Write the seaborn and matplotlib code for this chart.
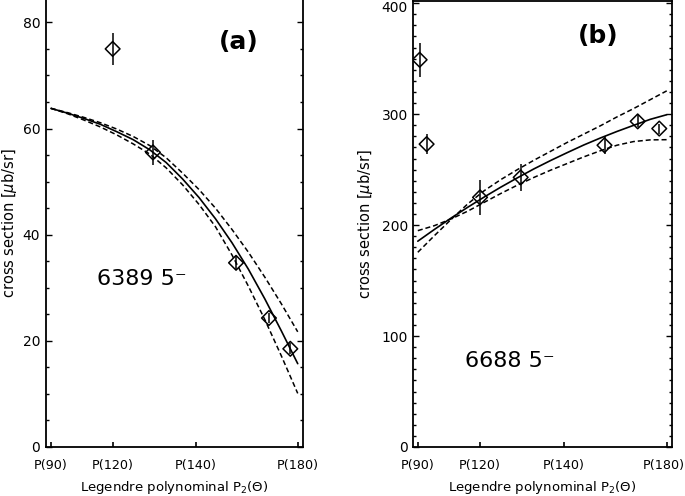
import matplotlib
matplotlib.use("Agg")
import matplotlib.pyplot as plt
import matplotlib.transforms as mtransforms
import seaborn as sns

# x axis is the Legendre polynomial P2(cos theta); ticks at 90, 120, 140, 180 deg
tick_pos = [-0.5, -0.125, 0.3802, 1.0]
tick_lab = ["P(90)", "P(120)", "P(140)", "P(180)"]

# --- panel (a): 6389 keV 5- ---
a_x = [-0.125, 0.120, 0.625, 0.825, 0.955]
a_y = [75.0, 55.5, 34.7, 24.3, 18.5]
a_err = [3.0, 2.4, 1.2, 1.0, 1.0]

a_fit_x = [-0.5, -0.4, -0.3, -0.2, -0.1, 0.0, 0.1, 0.2,
           0.3, 0.4, 0.5, 0.6, 0.7, 0.8, 0.9, 1.0]
a_fit = [63.8, 62.9, 61.9, 60.8, 59.4, 57.9, 56.0, 53.6,
         50.5, 47.0, 43.0, 38.5, 33.5, 27.9, 21.9, 15.7]
a_fit_hi = [63.8, 63.0, 62.1, 61.1, 59.9, 58.5, 56.8, 54.5,
            51.6, 48.5, 45.0, 41.0, 36.7, 32.0, 27.0, 21.7]
a_fit_lo = [63.8, 62.8, 61.6, 60.3, 58.8, 57.1, 55.2, 52.6,
            49.4, 45.7, 41.5, 36.2, 30.3, 24.0, 17.2, 10.1]

# --- panel (b): 6688 keV 5- ---
b_x = [-0.489, -0.447, -0.125, 0.120, 0.625, 0.825, 0.955]
b_y = [349.0, 273.0, 225.0, 243.0, 272.0, 293.5, 287.0]
b_err = [15.5, 9.0, 15.5, 12.0, 8.0, 5.5, 4.5]

b_fit_x = [-0.5, -0.4, -0.3, -0.2, -0.1, 0.0, 0.1, 0.2,
           0.3, 0.4, 0.5, 0.6, 0.7, 0.8, 0.9, 1.0]
b_fit = [185.5, 196.1, 206.3, 216.0, 225.3, 234.2, 242.6, 250.7,
         258.2, 265.3, 272.2, 278.5, 284.4, 289.9, 295.3, 299.5]
b_fit_steep = [175.5, 190.5, 205.0, 219.0, 231.0, 241.0, 250.0, 258.5,
               266.5, 274.5, 282.0, 289.5, 297.5, 305.0, 313.0, 321.0]
b_fit_flat = [195.0, 199.5, 205.5, 212.5, 220.5, 228.5, 236.0, 243.0,
              249.5, 255.5, 261.5, 267.0, 272.0, 275.3, 276.8, 277.0]

sns.set_style("white")
plt.rcParams['font.family'] = ['DejaVu Sans']
plt.rcParams.update({"text.color": "black", "axes.labelcolor": "black",
                     "xtick.color": "black", "ytick.color": "black"})

fig = plt.figure(figsize=(6.85, 4.96), dpi=100)
ax_a = fig.add_axes([0.0667, 0.0988, 0.3761, 0.9032])
ax_b = fig.add_axes([0.6034, 0.0988, 0.3772, 0.8992])

dash = (0, (3.3, 1.9))


def draw_panel(ax, px, py, perr, fx, curves, ylim, major, minor, xlim):
    sns.lineplot(x=fx, y=curves[0], ax=ax, color="black", lw=1.2)
    for c in curves[1:]:
        sns.lineplot(x=fx, y=c, ax=ax, color="black", lw=1.1, ls=dash)
    ax.errorbar(px, py, yerr=perr, fmt="none", ecolor="black", elinewidth=1.1, capsize=0)
    sns.scatterplot(x=px, y=py, ax=ax, marker="D", s=56, color="none",
                    edgecolor="black", linewidth=1.1, zorder=5)
    ax.set_xlim(*xlim)
    ax.set_ylim(*ylim)
    ax.set_xticks(tick_pos)
    ax.set_xticklabels(tick_lab)
    ax.set_yticks(major)
    ax.set_yticks(minor, minor=True)
    ax.tick_params(axis="y", which="both", direction="in", left=True, right=True,
                   labelsize=10, pad=4)
    ax.tick_params(axis="y", which="major", length=4, width=1)
    ax.tick_params(axis="y", which="minor", length=2.2, width=1)
    ax.tick_params(axis="x", which="major", direction="in", bottom=True, length=3.5,
                   width=1.2, labelsize=9.2, pad=9)
    for s in ax.spines.values():
        s.set_color("black")
        s.set_linewidth(1.3)
    ax.set_xlabel(r"Legendre polynominal P$_2$(Θ)", fontsize=9.5, labelpad=5)
    ax.set_ylabel(r"cross section [$\mu$b/sr]", fontsize=10.5, va="center")


draw_panel(ax_a, a_x, a_y, a_err, a_fit_x, [a_fit, a_fit_hi, a_fit_lo],
           (0, 84.4), [0, 20, 40, 60, 80], range(0, 85, 5), (-0.532, 1.034))
draw_panel(ax_b, b_x, b_y, b_err, b_fit_x, [b_fit, b_fit_steep, b_fit_flat],
           (0, 402), [0, 100, 200, 300, 400], range(0, 401, 10), (-0.527, 1.030))

ax_a.spines["top"].set_visible(False)
ax_a.yaxis.set_label_coords(-0.14, 0.5)
ax_b.yaxis.set_label_coords(-0.187, 0.5)

# keep edge labels inside the figure
last = ax_b.get_xticklabels()[-1]
last.set_transform(last.get_transform() +
                   mtransforms.ScaledTranslation(-3 / 100, 0, fig.dpi_scale_trans))
top = ax_b.get_yticklabels()[-1]
top.set_transform(top.get_transform() +
                  mtransforms.ScaledTranslation(0, -3 / 100, fig.dpi_scale_trans))

ax_a.text(0.748, 0.904, "(a)", transform=ax_a.transAxes, fontsize=18,
          fontweight="bold", ha="center", va="center")
ax_b.text(0.715, 0.922, "(b)", transform=ax_b.transAxes, fontsize=18,
          fontweight="bold", ha="center", va="center")
ax_a.text(0.199, 0.362, "6389 5⁻", transform=ax_a.transAxes, fontsize=16,
          ha="left", va="baseline")
ax_b.text(0.200, 0.180, "6688 5⁻", transform=ax_b.transAxes, fontsize=16,
          ha="left", va="baseline")

fig.savefig("out.png", dpi=100)
